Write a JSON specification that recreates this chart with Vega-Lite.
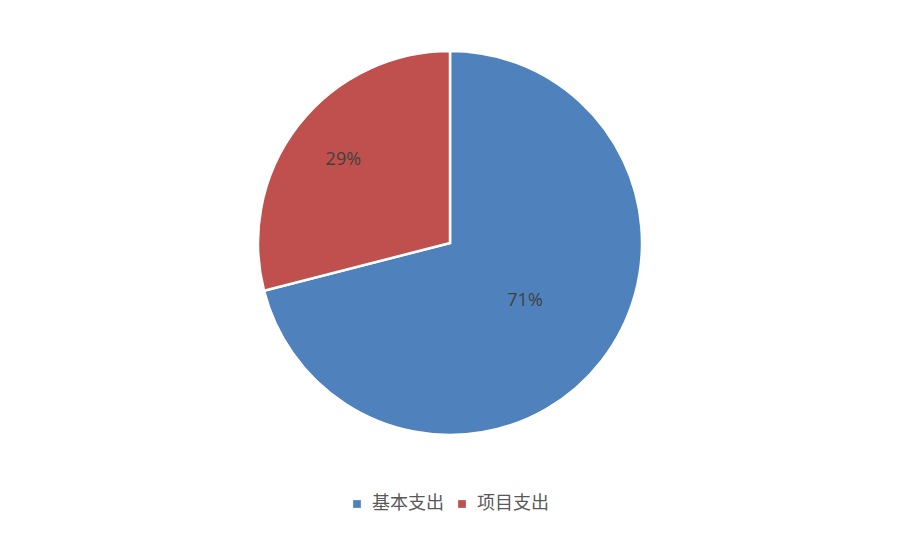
{
  "$schema": "https://vega.github.io/schema/vega-lite/v6.json",
  "width": 900,
  "height": 486,
  "autosize": {"type": "none"},
  "padding": {"top": 0, "left": 0, "right": 0, "bottom": 51},
  "background": "white",
  "data": {"values": [
    {"category": "基本支出", "value": 71, "label": "71%", "idx": 1},
    {"category": "项目支出", "value": 29, "label": "29%", "idx": 2}
  ]},
  "encoding": {
    "theta": {"field": "value", "type": "quantitative", "stack": true},
    "order": {"field": "idx", "type": "quantitative"},
    "color": {
      "field": "category", "type": "nominal",
      "scale": {"domain": ["基本支出", "项目支出"], "range": ["#4F81BD", "#C0504D"]},
      "legend": {
        "title": null, "orient": "none", "direction": "horizontal",
        "legendX": 348, "legendY": 495, "symbolType": "square", "symbolSize": 60,
        "labelFont": "Noto Sans CJK SC", "labelFontSize": 18, "labelColor": "#595959",
        "columnPadding": 9, "symbolStrokeWidth": 0, "labelOffset": 6
      }
    }
  },
  "layer": [
    {"mark": {"type": "arc", "outerRadius": 192, "stroke": "white", "strokeWidth": 2.5}},
    {"mark": {"type": "text", "radius": 95, "font": "Open Sans", "fontSize": 18, "fill": "#404040"},
     "encoding": {"text": {"condition": {"test": "datum.idx == 1", "field": "label"}, "value": ""}, "color": {"value": "#404040"}}},
    {"mark": {"type": "text", "radius": 135, "font": "Open Sans", "fontSize": 18, "fill": "#404040"},
     "encoding": {"text": {"condition": {"test": "datum.idx == 2", "field": "label"}, "value": ""}, "color": {"value": "#404040"}}}
  ],
  "config": {"view": {"stroke": null}}
}
